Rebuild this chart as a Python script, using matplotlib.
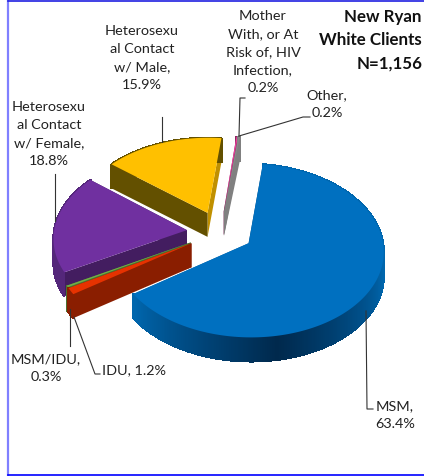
import numpy as np
import matplotlib
matplotlib.use('Agg')
import matplotlib.pyplot as plt
from matplotlib.collections import PolyCollection

plt.rcParams['font.family'] = ['Lato', 'DejaVu Sans']

categories = ['MSM', 'IDU', 'MSM/IDU', 'Heterosexual Contact w/ Female',
              'Heterosexual Contact w/ Male', 'Mother With, or At Risk of, HIV Infection', 'Other']
shares = [63.4, 1.2, 0.3, 18.8, 15.9, 0.2, 0.2]
top_colors = ['#0070C0', '#E63200', '#70AD47', '#7030A0', '#FFC000', '#E8409A', '#8A8A8A']
cut_colors = ['#00497D', '#8A1E00', '#4A7030', '#431D60', '#635000', '#8A2660', '#808080']
side_colors = ['#00497D', '#8A1E00', '#4A7030', '#54277A', '#635000', '#8A2660', '#808080']
end_colors = ['#005A9A', '#8A1E00', '#4A7030', '#431D60', '#C09000', '#808080', '#808080']

# pie geometry, in pixels of the 424x477 picture
CX, CY = 220, 233
RX, RY = 133, 84.4
PERSP = 0.083
EXPLODE = 0.25
DEPTH = 24
START = 7.6


def project(u, v, down=0):
    s = 1 / (1 + PERSP * v)
    return CX + RX * u * s, CY - RY * v * s + down


def slice_points(a0, a1):
    mid = np.radians((a0 + a1) / 2)
    ou, ov = EXPLODE * np.sin(mid), EXPLODE * np.cos(mid)
    ang = np.radians(np.linspace(a0, a1, max(3, int(a1 - a0) * 2)))
    return ou, ov, ang


def draw_slice(ax, a0, a1, top, cut, side, end, shaded):
    ou, ov, ang = slice_points(a0, a1)
    au, av = ou + np.sin(ang), ov + np.cos(ang)
    apex, apex_low = project(ou, ov), project(ou, ov, DEPTH)
    # cut walls
    for i, col in ((-1, end), (0, cut)):
        p, q = project(au[i], av[i]), project(au[i], av[i], DEPTH)
        ax.fill([apex[0], p[0], q[0], apex_low[0]], [apex[1], p[1], q[1], apex_low[1]],
                color=col, lw=0, zorder=2)
    # outer wall
    quads, cols = [], []
    base = np.array(matplotlib.colors.to_rgb(side))
    for k in range(len(ang) - 1):
        x0, y0 = project(au[k], av[k])
        x1, y1 = project(au[k + 1], av[k + 1])
        quads.append([(x0, y0), (x1, y1), (x1, y1 + DEPTH), (x0, y0 + DEPTH)])
        if shaded:
            d = abs(np.degrees(ang[k]) - 170) / 65
            cols.append(np.clip(np.array([0.0, 0.16, 0.30]) + min(d, 1) * np.array([0, 0.24, 0.38]), 0, 1))
        else:
            cols.append(base)
    ax.add_collection(PolyCollection(quads, facecolors=cols, edgecolors=cols, linewidths=0.9,
                                     antialiaseds=False, zorder=2))
    # top face
    xs, ys = project(au, av)
    ax.fill(np.r_[apex[0], xs], np.r_[apex[1], ys], color=top, lw=0, zorder=2)


fig = plt.figure(figsize=(4.24, 4.77), dpi=100)
ax = fig.add_axes([0, 0, 1, 1])
ax.set_xlim(0, 424)
ax.set_ylim(477, 0)
ax.axis('off')

# frame
ax.plot([8, 8], [1, 476], color='#8080FF', lw=1.6, zorder=1)
ax.plot([8, 424], [1.5, 1.5], color='#2020E0', lw=1.2, zorder=1)
ax.plot([8, 424], [476, 476], color='#0000FF', lw=1.2, zorder=1)

edges = START + np.r_[0, np.cumsum(shares)] * 3.6
order = [5, 6, 4, 3, 2, 1, 0]
for i in order:
    draw_slice(ax, edges[i], edges[i + 1], top_colors[i], cut_colors[i], side_colors[i], end_colors[i], i == 0)

# leader lines
leaders = [
    ([373, 367, 366], [410, 410, 312]),
    ([100, 95, 74], [375, 375, 318]),
    ([70, 70], [347, 310]),
    ([55, 55], [175, 222]),
    ([162, 162], [118, 143]),
    ([245, 240, 239], [99, 99, 137]),
    ([310, 303, 239], [118, 118, 137]),
]
for xs, ys in leaders:
    ax.plot(xs, ys, color='#333333', lw=0.8, zorder=3)

text_kw = dict(fontsize=10.4, color='#222222', ha='center', va='center', linespacing=1.62, zorder=4)
ax.text(395, 415, 'MSM,\n63.4%', **text_kw)
ax.text(134, 370, 'IDU, 1.2%', **text_kw)
ax.text(46, 368, 'MSM/IDU,\n0.3%', **text_kw)
ax.text(49, 134, 'Heterosexu\nal Contact\nw/ Female,\n18.8%', **text_kw)
ax.text(142, 58, 'Heterosexu\nal Contact\nw/ Male,\n15.9%', **text_kw)
ax.text(263, 52, 'Mother\nWith, or At\nRisk of, HIV\nInfection,\n0.2%', **text_kw)
ax.text(327, 104, 'Other,\n0.2%', **text_kw)
ax.text(422, 40, 'New Ryan\nWhite Clients\nN=1,156', fontsize=12.2, fontweight='bold', color='#111111',
        ha='right', va='center', linespacing=1.55, zorder=4)

fig.savefig('out.png', dpi=100)
